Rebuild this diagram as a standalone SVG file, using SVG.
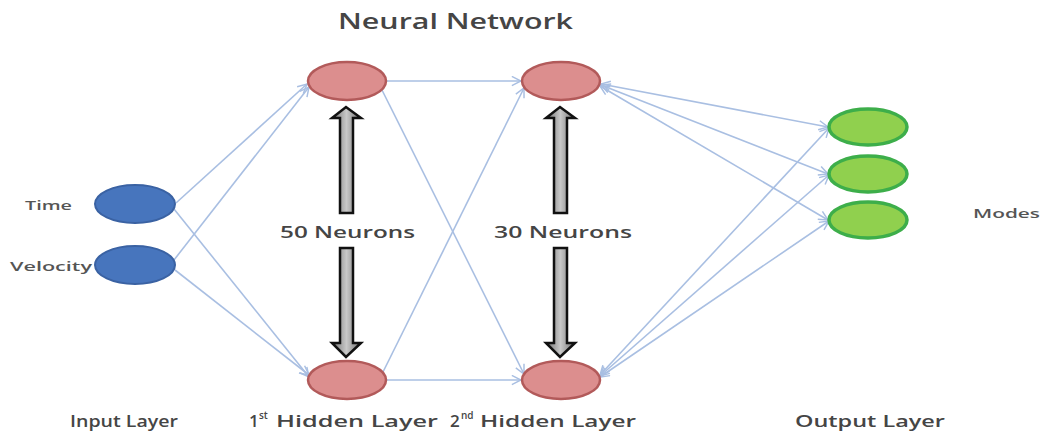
<svg xmlns="http://www.w3.org/2000/svg" width="1045" height="432" viewBox="0 0 1045 432">
  <defs>
    <style>
      .lbl { font-family: "Open Sans", "Liberation Sans", sans-serif; font-weight: 600; fill: #454545; }
      .small { font-family: "Open Sans", "Liberation Sans", sans-serif; font-weight: 600; fill: #555555; font-size: 12px; }
      .link { stroke: #a9bfe2; stroke-width: 1.6; fill: none; }
      .in { fill: #4775bd; stroke: #3a62a3; stroke-width: 2; }
      .hid { fill: #dc8e8e; stroke: #b25a5a; stroke-width: 2.5; }
      .out { fill: #90d04e; stroke: #3dae4a; stroke-width: 3.5; }
      .fat { fill: url(#shaft); stroke: #111; stroke-width: 2.5; stroke-linejoin: miter; }
    </style>
    <linearGradient id="shaft" x1="0" y1="0" x2="1" y2="0">
      <stop offset="0" stop-color="#6f6f6f"/>
      <stop offset="0.5" stop-color="#c8c8c8"/>
      <stop offset="1" stop-color="#6f6f6f"/>
    </linearGradient>
    <marker id="tip" viewBox="0 0 12 12" refX="11" refY="6" markerWidth="11" markerHeight="11" markerUnits="userSpaceOnUse" orient="auto-start-reverse">
      <path d="M1,1 L11,6 L1,11" fill="none" stroke="#a9bfe2" stroke-width="1.6"/>
    </marker>
  </defs>

  <rect width="1045" height="432" fill="#ffffff"/>

  <!-- title -->
  <text class="lbl" x="338" y="29" font-size="21" textLength="235" lengthAdjust="spacingAndGlyphs">Neural Network</text>

  <!-- connectors -->
  <g id="connectors">
    <line class="link" x1="176" y1="203" x2="307" y2="84" marker-end="url(#tip)"/>
    <line class="link" x1="174" y1="209" x2="309" y2="377" marker-end="url(#tip)"/>
    <line class="link" x1="174" y1="260" x2="309" y2="87" marker-end="url(#tip)"/>
    <line class="link" x1="175" y1="270" x2="309" y2="375" marker-end="url(#tip)"/>

    <line class="link" x1="387" y1="81" x2="521" y2="81" marker-end="url(#tip)"/>
    <line class="link" x1="382" y1="90" x2="524" y2="374" marker-end="url(#tip)"/>
    <line class="link" x1="383" y1="372" x2="524" y2="88" marker-end="url(#tip)"/>
    <line class="link" x1="387" y1="380" x2="521" y2="380" marker-end="url(#tip)"/>

    <line class="link" x1="601" y1="84" x2="828" y2="127" marker-start="url(#tip)" marker-end="url(#tip)"/>
    <line class="link" x1="601" y1="85" x2="828" y2="174" marker-start="url(#tip)" marker-end="url(#tip)"/>
    <line class="link" x1="600" y1="86" x2="828" y2="220" marker-start="url(#tip)" marker-end="url(#tip)"/>
    <line class="link" x1="600" y1="375" x2="829" y2="128" marker-start="url(#tip)" marker-end="url(#tip)"/>
    <line class="link" x1="600" y1="376" x2="829" y2="175" marker-start="url(#tip)" marker-end="url(#tip)"/>
    <line class="link" x1="600" y1="377" x2="829" y2="221" marker-start="url(#tip)" marker-end="url(#tip)"/>
  </g>

  <!-- input layer -->
  <g id="in-time">
    <ellipse class="in" cx="135" cy="204" rx="40" ry="19"/>
    <text class="small" x="25" y="210" textLength="47" lengthAdjust="spacingAndGlyphs">Time</text>
  </g>
  <g id="in-velocity">
    <ellipse class="in" cx="135" cy="265" rx="40" ry="19"/>
    <text class="small" x="10" y="271" textLength="82" lengthAdjust="spacingAndGlyphs">Velocity</text>
  </g>

  <!-- first hidden layer -->
  <g id="h1-top"><ellipse class="hid" cx="347" cy="81" rx="39" ry="19"/></g>
  <g id="h1-bottom"><ellipse class="hid" cx="347" cy="380" rx="39" ry="19"/></g>
  <g id="h1-count">
    <path class="fat" d="M340,213 L340,118 L332,118 L346,107 L361,118 L353,118 L353,213 Z"/>
    <path class="fat" d="M340,248 L353,248 L353,343 L361,343 L346,357 L332,343 L340,343 Z"/>
    <text class="lbl" x="280" y="238" font-size="17" textLength="135" lengthAdjust="spacingAndGlyphs">50 Neurons</text>
  </g>

  <!-- second hidden layer -->
  <g id="h2-top"><ellipse class="hid" cx="561" cy="81" rx="39" ry="19"/></g>
  <g id="h2-bottom"><ellipse class="hid" cx="561" cy="380" rx="39" ry="19"/></g>
  <g id="h2-count">
    <path class="fat" d="M554,213 L554,118 L546,118 L560,107 L575,118 L567,118 L567,213 Z"/>
    <path class="fat" d="M554,248 L567,248 L567,343 L575,343 L560,357 L546,343 L554,343 Z"/>
    <text class="lbl" x="494" y="238" font-size="17" textLength="138" lengthAdjust="spacingAndGlyphs">30 Neurons</text>
  </g>

  <!-- output layer -->
  <g id="out-1"><ellipse class="out" cx="868" cy="127" rx="39" ry="18"/></g>
  <g id="out-2"><ellipse class="out" cx="868" cy="174" rx="39" ry="18"/></g>
  <g id="out-3"><ellipse class="out" cx="868" cy="220" rx="39" ry="18"/></g>
  <text class="small" x="973" y="218" textLength="67" lengthAdjust="spacingAndGlyphs">Modes</text>

  <!-- layer captions -->
  <text class="lbl" x="70" y="427" font-size="17" textLength="108" lengthAdjust="spacingAndGlyphs">Input Layer</text>
  <text class="lbl" x="249" y="427" font-size="17">1</text>
  <text class="lbl" x="259" y="419" font-size="10">st</text>
  <text class="lbl" x="276" y="427" font-size="17" textLength="162" lengthAdjust="spacingAndGlyphs">Hidden Layer</text>
  <text class="lbl" x="450" y="427" font-size="17">2</text>
  <text class="lbl" x="461" y="419" font-size="10">nd</text>
  <text class="lbl" x="480" y="427" font-size="17" textLength="156" lengthAdjust="spacingAndGlyphs">Hidden Layer</text>
  <text class="lbl" x="795" y="427" font-size="17" textLength="150" lengthAdjust="spacingAndGlyphs">Output Layer</text>
</svg>
